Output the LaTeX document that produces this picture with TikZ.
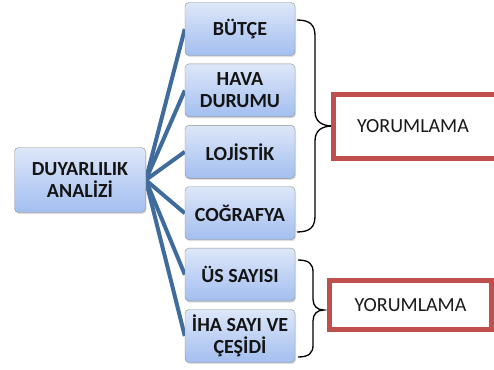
\documentclass[tikz,border=0pt]{standalone}
\usepackage{fontspec}
\setmainfont{Carlito}
\usetikzlibrary{positioning,backgrounds,shadows}
\definecolor{boxtop}{HTML}{DDE7F9}
\definecolor{boxbot}{HTML}{A3BEEF}
\definecolor{boxline}{HTML}{8E8E8E}
\definecolor{linkblue}{HTML}{3F6C9C}
\definecolor{notered}{HTML}{C0504D}
\begin{document}
\begin{tikzpicture}[x=1pt,y=-1pt,
factor/.style={draw=boxline,rounded corners=4pt,top color=boxtop,bottom color=boxbot,
  drop shadow={opacity=.25,shadow xshift=1pt,shadow yshift=-1.5pt},
  align=center,text=black!92,font=\bfseries\fontsize{20}{22}\selectfont,
  minimum width=110pt,minimum height=53pt,inner sep=1pt},
root/.style={factor,minimum width=131pt,minimum height=65pt},
link/.style={draw=linkblue,line width=4pt},
brace/.style={draw=black,line width=1.3pt},
note/.style={draw=notered,line width=5pt,fill=white,font=\fontsize{20}{24}\selectfont,text=black!90}]
\useasboundingbox (0,0) rectangle (494,369);
\clip (0,0) rectangle (494,369);
\node[root](analiz) at (80,180){DUYARLILIK\\ANALİZİ};
\node[factor](butce) at (240,29){BÜTÇE};
\node[factor,below=8pt of butce](hava){HAVA\\DURUMU};
\node[factor,below=8pt of hava](lojistik){LOJİSTİK};
\node[factor,below=8pt of lojistik](cografya){COĞRAFYA};
\node[factor,below=8pt of cografya](us){ÜS SAYISI};
\node[factor,below=8pt of us](iha){İHA SAYI VE\\ÇEŞİDİ};
\begin{scope}[on background layer]
\foreach \f in {butce,hava,lojistik,cografya,us,iha}
  \draw[link](analiz.east)--(\f.west);
\end{scope}
% braces
\draw[brace](297,20) .. controls (310,20) and (315,25) .. (315,36) -- (315,111)
  .. controls (315,121) and (321,126) .. (333,126)
  .. controls (321,126) and (315,131) .. (315,141) -- (315,216)
  .. controls (315,227) and (310,232) .. (297,232);
\draw[brace](298,260) .. controls (309,260) and (313,264) .. (313,272) -- (313,299)
  .. controls (313,306) and (317,310) .. (324,310)
  .. controls (317,310) and (313,314) .. (313,321) -- (313,345)
  .. controls (313,353) and (309,357) .. (298,357);
\node[note,minimum width=183pt,minimum height=64pt](yorum1) at (425,126.5){\hspace*{-24pt}YORUMLAMA};
\node[note,minimum width=162pt,minimum height=49pt](yorum2) at (410.5,305){YORUMLAMA};
\end{tikzpicture}
\end{document}
